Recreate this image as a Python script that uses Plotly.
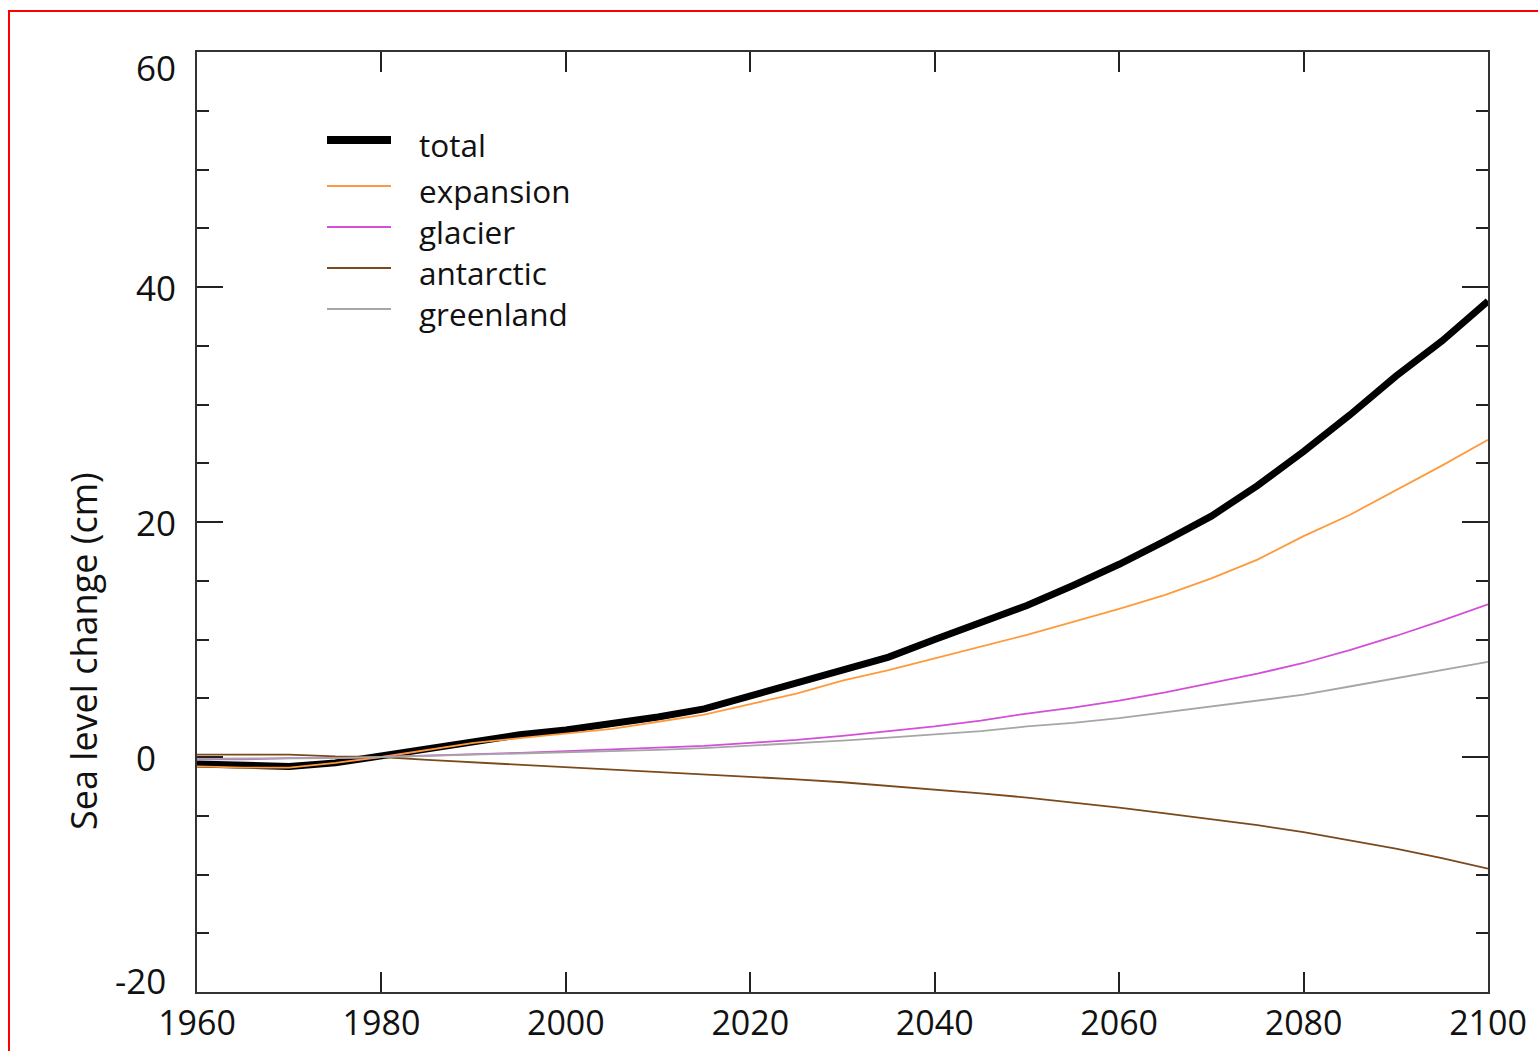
import plotly.graph_objects as go

years = list(range(1960, 2101, 5))

total = [-0.6, -0.7, -0.8, -0.5, 0.1, 0.8, 1.4, 1.9, 2.3, 2.8, 3.4, 4.1, 5.2, 6.3, 7.3,
         8.5, 10.0, 11.4, 12.9, 14.6, 16.4, 18.4, 20.5, 23.1, 26.0, 29.1, 32.4, 35.4, 38.8]
expansion = [-0.8, -0.9, -0.9, -0.5, 0.0, 0.6, 1.2, 1.6, 2.0, 2.4, 3.0, 3.6, 4.5, 5.4, 6.5,
             7.4, 8.4, 9.4, 10.4, 11.5, 12.6, 13.8, 15.2, 16.8, 18.8, 20.6, 22.7, 24.8, 27.0]
glacier = [-0.2, -0.2, -0.1, -0.1, 0.0, 0.1, 0.25, 0.35, 0.5, 0.65, 0.75, 0.95, 1.2, 1.45, 1.8,
           2.2, 2.6, 3.1, 3.7, 4.2, 4.8, 5.5, 6.3, 7.1, 8.0, 9.1, 10.3, 11.6, 13.0]
antarctic = [0.2, 0.2, 0.2, 0.05, 0.0, -0.25, -0.45, -0.65, -0.9, -1.05, -1.25, -1.5, -1.7, -1.9, -2.15,
             -2.45, -2.75, -3.1, -3.45, -3.85, -4.3, -4.8, -5.3, -5.8, -6.4, -7.1, -7.8, -8.6, -9.5]
greenland = [-0.15, -0.15, -0.15, -0.1, 0.0, 0.1, 0.2, 0.3, 0.35, 0.45, 0.6, 0.75, 0.95, 1.15, 1.4,
             1.65, 1.9, 2.2, 2.6, 2.9, 3.3, 3.8, 4.3, 4.8, 5.3, 6.0, 6.7, 7.4, 8.1]

series_names = ["total", "expansion", "glacier", "antarctic", "greenland"]
series_values = [total, expansion, glacier, antarctic, greenland]

x_tickvals = [1960, 1980, 2000, 2020, 2040, 2060, 2080, 2100]
y_tickvals = [-20, 0, 20, 40, 60]
y_ticktext = ["-20", "0", "20", "40", "60"]

# styles
colors = ["#000000", "#FF9A3C", "#D24FD8", "#7B4A1C", "#A6A6A6"]
widths = [7, 1.8, 1.8, 1.8, 1.8]
legend_widths = [8, 2, 2, 2, 2]
FONT = "Open Sans"
FS = 34

W, H = 1538, 1051
L, R, T, B = 197, 50, 52, 59
pw, ph = W - L - R, H - T - B


def px2paper_x(px):
    return (px - L) / pw


def px2paper_y(py):
    return (H - B - py) / ph


fig = go.Figure()
for name, vals, c, w in zip(series_names, series_values, colors, widths):
    fig.add_trace(go.Scatter(x=years, y=vals, mode="lines", name=name,
                             line=dict(color=c, width=w), showlegend=False))

axis_common = dict(showline=True, linecolor="#333333", linewidth=2, mirror="ticks",
                   ticks="inside", tickcolor="#222222", tickwidth=2, showgrid=False,
                   zeroline=False)

fig.update_xaxes(range=[1960, 2100], tickvals=x_tickvals, ticklen=20,
                 tickfont=dict(family=FONT, size=FS, color="#111111"),
                 ticklabelstandoff=0, automargin=False, **axis_common)
fig.update_yaxes(range=[-20, 60], tickvals=y_tickvals, ticklen=26, showticklabels=False,
                 minor=dict(dtick=5, ticklen=12, ticks="inside", tickcolor="#222222", tickwidth=2),
                 automargin=False, **axis_common)

annotations = []
# y tick labels (right edges / vertical nudges as in the reference)
ylab_right_px = [168, 158, 178, 178, 178]
ylab_shift = [12, 0, 0, 0, -15]
for v, t, rpx, sh in zip(y_tickvals, y_ticktext, ylab_right_px, ylab_shift):
    annotations.append(dict(x=px2paper_x(rpx), xref="paper", y=v, yref="y", yshift=sh,
                            text=t, showarrow=False, xanchor="right", yanchor="middle",
                            font=dict(family=FONT, size=35, color="#111111")))

# axis title
annotations.append(dict(x=px2paper_x(83), xref="paper", y=px2paper_y(651), yref="paper",
                        text="Sea level change (cm)", textangle=-90, showarrow=False,
                        xanchor="center", yanchor="middle",
                        font=dict(family=FONT, size=36, color="#111111")))

shapes = []
# legend
leg_rows_px = [140, 186, 227, 268, 309]
for name, c, lw, ry in zip(series_names, colors, legend_widths, leg_rows_px):
    shapes.append(dict(type="line", xref="paper", yref="paper",
                       x0=px2paper_x(327), x1=px2paper_x(391),
                       y0=px2paper_y(ry), y1=px2paper_y(ry),
                       line=dict(color=c, width=lw)))
    annotations.append(dict(x=px2paper_x(417), xref="paper", y=px2paper_y(ry + 4), yref="paper",
                            text=name, showarrow=False, xanchor="left", yanchor="middle",
                            font=dict(family=FONT, size=31.5, color="#111111")))

# red frame
shapes.append(dict(type="rect", xref="paper", yref="paper",
                   x0=px2paper_x(9), x1=px2paper_x(1600),
                   y0=px2paper_y(1100), y1=px2paper_y(11),
                   line=dict(color="#FF0000", width=2), fillcolor="rgba(0,0,0,0)"))

fig.update_layout(width=W, height=H, margin=dict(l=L, r=R, t=T, b=B, autoexpand=False),
                  paper_bgcolor="white", plot_bgcolor="white",
                  annotations=annotations, shapes=shapes, showlegend=False)

fig.write_html("out.html", config={"displayModeBar": False},
               post_script="document.body.style.margin='0';document.body.style.overflow='hidden';")
